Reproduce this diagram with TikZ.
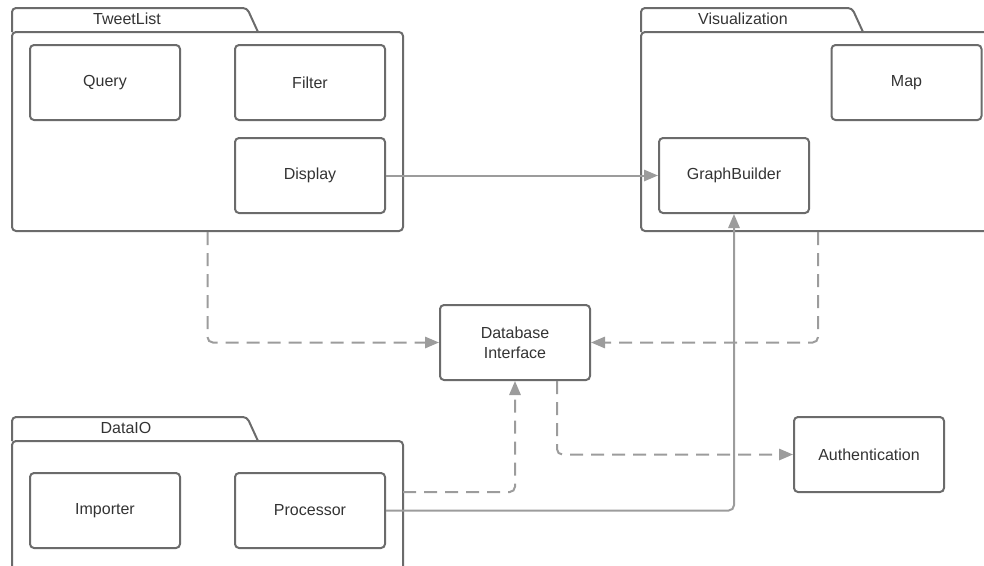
\documentclass[tikz,border=0pt]{standalone}
\usepackage{fontspec}
\setmainfont{Liberation Sans}
\usetikzlibrary{arrows.meta,calc}
\definecolor{inkgray}{HTML}{333333}
\definecolor{boxgray}{HTML}{6B6B6B}
\definecolor{linkgray}{HTML}{9C9C9C}
\begin{document}
\begin{tikzpicture}[x=0.75pt,y=-0.75pt,
  txt/.style={font=\fontsize{12}{15}\selectfont, text=inkgray},
  comp/.style={txt, draw=boxgray, line width=1.5pt, rounded corners=3pt,
    minimum width=112.5pt, minimum height=56.25pt, inner sep=0pt, align=center},
  pkgbody/.style={draw=boxgray, line width=1.5pt, rounded corners=3pt,
    minimum height=149.25pt, inner sep=0pt},
  pkgtab/.style={draw=boxgray, line width=1.5pt, rounded corners=3pt},
  tablabel/.style={txt, inner sep=0pt},
  link/.style={draw=linkgray, line width=1.5pt, rounded corners=4pt,
    -{Triangle[length=10.5pt,width=8.5pt]}},
  dep/.style={link, dash pattern=on 9.75pt off 6pt}
]
\clip (0,0) rectangle (984,565);

% --- package TweetList ---
\draw[pkgtab] (12,32) -- (12,8) -- (247,8) -- (258,32);
\node[pkgbody, minimum width=293.25pt] (tl) at (207.5,131.5) {};
\node[tablabel] (tllab) at (127,19) {TweetList};
\node[comp] (query)   at (105,82.5)  {Query};
\node[comp] (filter)  at (310,82.5)  {Filter};
\node[comp] (display) at (310,175.5) {Display};

% --- package Visualization ---
\draw[pkgtab] (641,32) -- (641,8) -- (852,8) -- (863,32);
\node[pkgbody, minimum width=265.5pt] (vis) at (818,131.5) {};
\node[tablabel] (vislab) at (743,19) {Visualization};
\node[comp] (map) at (906.5,82.5)  {Map};
\node[comp] (gb)  at (734,175.5)   {GraphBuilder};

% --- package DataIO ---
\draw[pkgtab] (12,441) -- (12,417) -- (247,417) -- (258,441);
\node[pkgbody, minimum width=293.25pt] (dio) at (207.5,540.5) {};
\node[tablabel] (diolab) at (126,428) {DataIO};
\node[comp] (importer)  at (105,510.5) {Importer};
\node[comp] (processor) at (310,510.5) {Processor};

% --- free-standing components ---
\node[comp] (db)   at (515,342.5) {Database\\Interface};
\node[comp] (auth) at (869,454.5) {Authentication};

% --- connectors ---
\coordinate (dioport) at (403,492);
\coordinate (dbout) at ($(db.south)+(42,0)$);

\draw[link] (display.east) -- (gb.west);
\draw[link] (processor.east) -| (gb.south);
\draw[dep] (tl.south) |- (db.west);
\draw[dep] (vis.south) |- (db.east);
\draw[dep] (dioport) -| (db.south);
\draw[dep] (dbout) |- (auth.west);
\end{tikzpicture}
\end{document}
